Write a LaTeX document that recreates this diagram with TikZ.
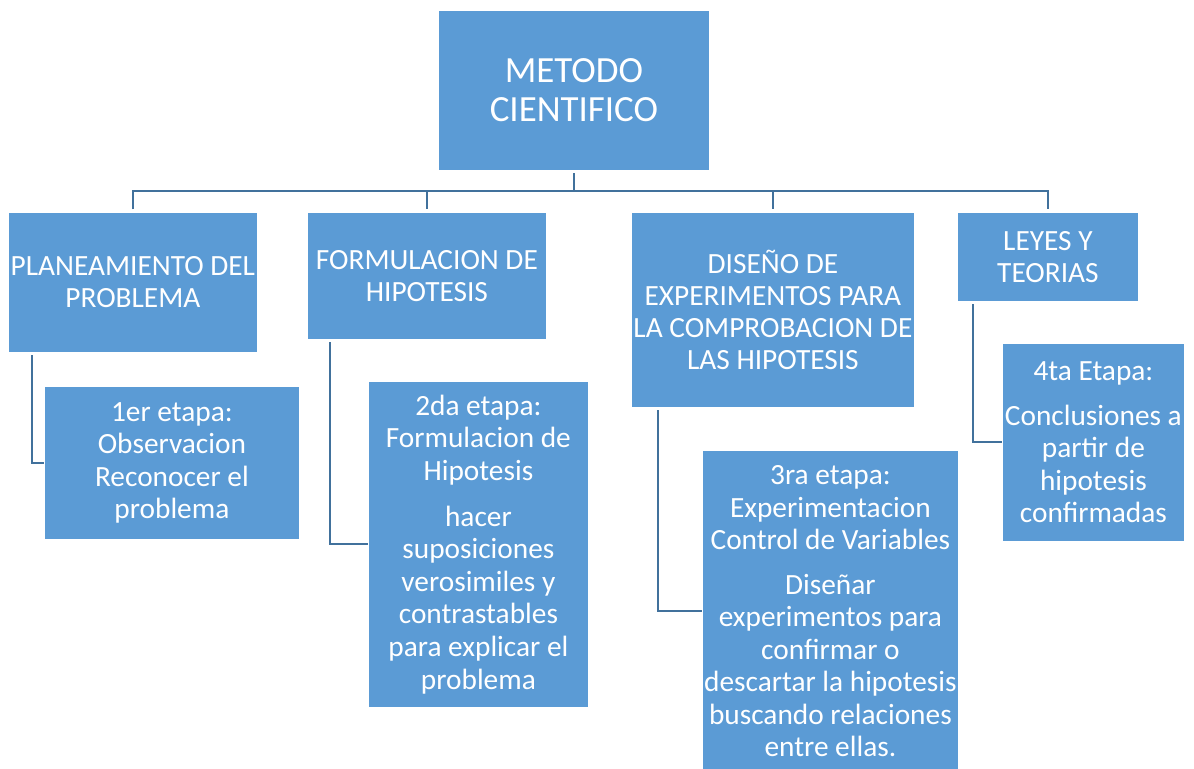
\documentclass[tikz,border=0pt]{standalone}
\usepackage{fontspec}
\setmainfont{Carlito}
\newlength\pxu
\setlength\pxu{0.75pt}
\definecolor{boxfill}{HTML}{5B9BD5}
\definecolor{linec}{HTML}{41719C}
\tikzset{
  box/.style={draw=white, line width=0.6pt, fill=boxfill, text=white, align=center, inner sep=0pt, anchor=north west},
  topbox/.style={box, font=\fontsize{27.7}{29.5}\selectfont},
  lvla/.style={box, font=\fontsize{22}{23.8}\selectfont},
  lvlb/.style={box, font=\fontsize{22}{24.4}\selectfont},
  conn/.style={draw=linec, line width=1.6pt},
}
\begin{document}
\begin{tikzpicture}[x=0.75pt,y=-0.75pt]
\useasboundingbox (0,0) rectangle (1194,768);
\clip (0,0) rectangle (1194,768);
\node[topbox, minimum width=271\pxu, minimum height=160\pxu] (root) at (438,10) {METODO\\CIENTIFICO};
\node[lvla, minimum width=249\pxu, minimum height=140\pxu] (p1) at (8,212) {PLANEAMIENTO DEL\\PROBLEMA};
\node[lvla, minimum width=239\pxu, minimum height=127\pxu] (p2) at (307,212) {FORMULACION DE\\HIPOTESIS};
\node[lvla, minimum width=283\pxu, minimum height=195\pxu] (p3) at (631,212) {DISEÑO DE\\EXPERIMENTOS PARA\\LA COMPROBACION DE\\LAS HIPOTESIS};
\node[lvla, minimum width=181\pxu, minimum height=89\pxu] (p4) at (957,212) {LEYES Y\\TEORIAS};
\node[lvlb, minimum width=255\pxu, minimum height=153\pxu] (s1) at (44,386) {1er etapa:\\Observacion\\Reconocer el\\problema};
\node[lvlb, minimum width=220\pxu, minimum height=326\pxu] (s2) at (368,381) {2da etapa:\\Formulacion de\\Hipotesis\\[10pt]hacer\\suposiciones\\verosimiles y\\contrastables\\para explicar el\\problema};
\node[lvlb, minimum width=256\pxu, minimum height=322\pxu] (s3) at (702,450) {3ra etapa:\\Experimentacion\\Control de Variables\\[9pt]Diseñar\\experimentos para\\confirmar o\\descartar la hipotesis\\buscando relaciones\\entre ellas.};
\node[lvlb, minimum width=182\pxu, minimum height=198\pxu] (s4) at (1002,343) {4ta Etapa:\\[9pt]Conclusiones a\\partir de\\hipotesis\\confirmadas};
\coordinate (bus) at (0,191);
\draw[conn, shorten <=2pt] (root.south) -- (root.south |- bus);
\draw[conn, shorten <=2pt, shorten >=2pt] (p1.north) -- (p1.north |- bus) -- (p4.north |- bus) -- (p4.north);
\draw[conn, shorten >=2pt] (p2.north |- bus) -- (p2.north);
\draw[conn, shorten >=2pt] (p3.north |- bus) -- (p3.north);
\draw[conn, shorten <=2pt] ([xshift=24\pxu]p1.south west) |- (s1.west);
\draw[conn, shorten <=2pt] ([xshift=23\pxu]p2.south west) |- (s2.west);
\draw[conn, shorten <=2pt] ([xshift=27\pxu]p3.south west) |- (s3.west);
\draw[conn, shorten <=2pt] ([xshift=16\pxu]p4.south west) |- (s4.west);
\end{tikzpicture}
\end{document}
